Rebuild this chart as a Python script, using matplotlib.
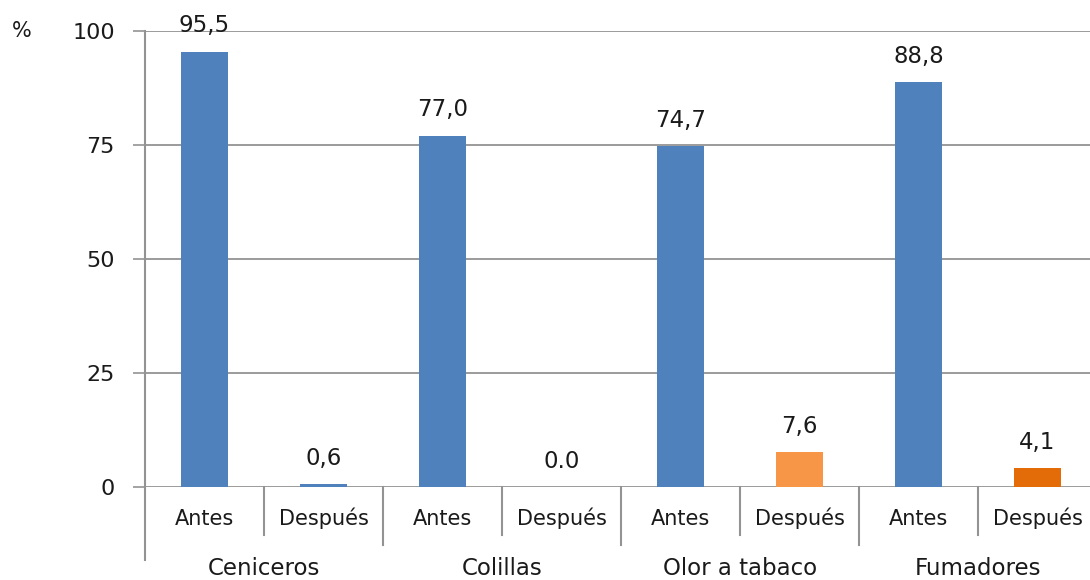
import matplotlib
matplotlib.use("Agg")
import matplotlib.pyplot as plt
import matplotlib.transforms as mtransforms

plt.rcParams["font.family"] = ["DejaVu Sans"]

# data
groups = ["Ceniceros", "Colillas", "Olor a tabaco", "Fumadores"]
phases = ["Antes", "Después"]
values = [95.5, 0.6, 77.0, 0.0, 74.7, 7.6, 88.8, 4.1]
value_labels = ["95,5", "0,6", "77,0", "0.0", "74,7", "7,6", "88,8", "4,1"]
bar_colors = ["#4F81BD", "#4F81BD", "#4F81BD", "#4F81BD",
              "#4F81BD", "#F79646", "#4F81BD", "#E36C09"]
yticks = [0, 25, 50, 75, 100]

GRID = "#939393"
TXT = "#1a1a1a"

fig = plt.figure(figsize=(10.9, 5.8), dpi=100)
ax = fig.add_axes([145 / 1090, 1 - 487 / 580, 952 / 1090, 456 / 580])

x = list(range(len(values)))
ax.bar(x, values, width=0.4, color=bar_colors, zorder=3)
for xi, v, lab in zip(x, values, value_labels):
    ax.annotate(lab, (xi, v), xytext=(0, 14), textcoords="offset points",
                ha="center", va="baseline", fontsize=16.5, color=TXT)

ax.set_xlim(-0.5, len(values) - 0.5)
ax.set_ylim(0, 100)
ax.set_yticks(yticks)
ax.set_yticklabels([str(t) for t in yticks], fontsize=16, color=TXT)
ax.tick_params(axis="y", length=8.6, width=1.2, color=GRID, pad=13)
ax.set_xticks([])
ax.yaxis.grid(True, color=GRID, lw=1.3, zorder=0)
for s in ["top", "right", "bottom", "left"]:
    ax.spines[s].set_visible(False)

trans = mtransforms.blended_transform_factory(ax.transData, ax.transAxes)
h = 456.0
# left axis line, extended below the plot
ax.plot([-0.5, -0.5], [1, -73 / h], transform=trans, color=GRID, lw=1.5,
        clip_on=False, zorder=4)
# separators between phase labels / groups
for i in range(1, len(values)):
    depth = 58 / h if i % 2 == 0 else 48 / h
    ax.plot([i - 0.5, i - 0.5], [0, -depth], transform=trans, color=GRID,
            lw=1.5, clip_on=False)

for i in range(len(values)):
    ax.text(i, -38 / h, phases[i % 2], transform=trans, ha="center",
            va="baseline", fontsize=15, color=TXT)
for g, name in enumerate(groups):
    ax.text(2 * g + 0.5, -88 / h, name, transform=trans, ha="center",
            va="baseline", fontsize=16.5, color=TXT)

fig.text(12 / 1090, 1 - 31 / 580, "%", ha="left", va="center", fontsize=15,
         color=TXT)

fig.savefig("out.png", dpi=100)
